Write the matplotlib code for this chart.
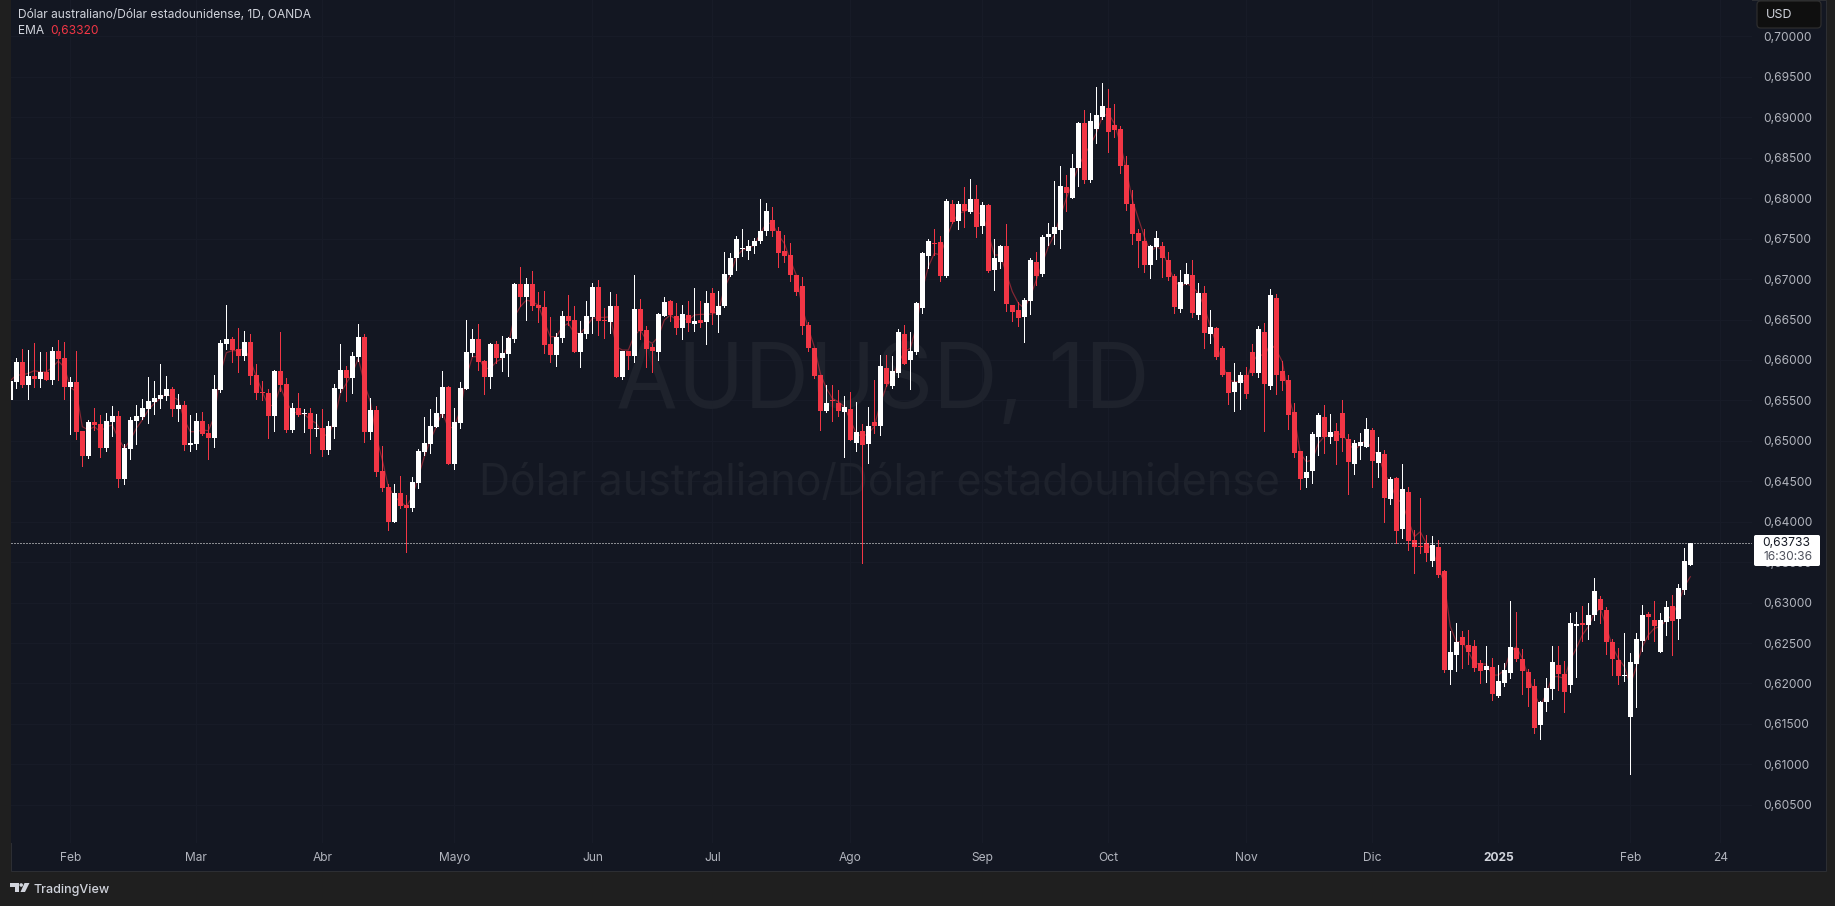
import matplotlib
matplotlib.use("Agg")
import matplotlib.pyplot as plt
from matplotlib.patches import Rectangle, FancyBboxPatch, Polygon, Ellipse
import numpy as np

W, H = 1835, 906

# Prices in 1/100000 of a dollar, one value per daily candle
HIGH = [
 65752,66020,66136,66123,66210,66099,66099,66160,66247,66222,65789,66111,65122,65258,65406,65320,65344,65431,65369,64961,65295,65443,65517,65789,65740,65950,65802,65666,65579,65493,65320,65344,65357,65208,65814,66247,66680,66284,66395,66358,66321,65950,65740,65641,65876,66346,65777,65468,65592,65394,65406,65332,65394,65245,65703,66198,65926,66099,66445,66321,65530,65431,64936,64466,64466,64565,64330,64553,64899,65295,65394,65542,65864,
 65678,65406,65727,66494,66382,66444,65999,66209,66234,66296,66284,66951,67149,67013,67100,66844,66852,66531,66333,66605,66803,66667,66481,66729,66951,66988,66642,66840,66815,66110,66110,67050,66753,66420,66197,66580,66778,66741,66704,66679,66729,66889,66729,66852,66889,66852,67335,67322,67532,67619,67483,67508,67990,67941,67891,67644,67545,67446,67050,67025,66469,66147,65814,65690,65690,65628,65554,65603,65480,65208,65418,65752,
 66062,66062,66049,66383,66433,66346,66717,67335,67496,67620,67533,67991,67978,67966,68139,68238,68164,67954,67929,67496,67422,67682,66680,66717,66767,67261,67335,67546,67694,68213,68399,68288,68547,68943,69091,69054,69376,69425,69351,69166,68893,68523,68102,67620,67620,67422,67595,67459,67335,67063,67113,67199,67236,66952,66915,66618,66408,66173,65851,65963,65851,65913,66198,66420,
 66457,66878,66816,65987,65814,65468,64874,64813,65109,65344,65443,65332,65221,65505,65085,65010,65097,65282,65159,65048,64887,64553,64553,64714,64429,63897,64293,63836,63823,63774,
 63403,62648,62747,62648,62661,62537,62290,62463,62314,62228,62253,63019,62883,62426,62178,62055,61783,62067,62463,62463,62277,62871,62883,62958,62995,63304,63081,62945,62549,62438,62624,62376,62624,62970,62883,63019,62871,63019,63094,63230,63675,63733,
]
BODY_TOP = [
 65744,65975,65975,65802,65802,65851,65851,66111,66111,66024,65728,65728,65122,65233,65233,65208,65245,65307,65307,64912,65258,65307,65406,65493,65530,65567,65641,65641,65443,65443,64973,65245,65245,65097,65641,66210,66259,66259,66136,66222,66222,65814,65604,65592,65864,65864,65703,65406,65406,65340,65344,65159,65159,65184,65654,65876,65876,66049,66284,66284,65381,65381,64627,64429,64355,64355,64207,64491,64874,64973,65184,65344,65666,
 65665,65232,65653,66098,66259,66259,65987,66197,66197,66086,66271,66939,66939,66939,66939,66679,66655,66197,66284,66543,66543,66494,66333,66543,66902,66902,66494,66667,66667,66110,66110,66630,66630,66370,66160,66568,66716,66729,66543,66568,66556,66481,66494,66704,66828,66667,67063,67260,67495,67384,67409,67471,67594,67842,67730,67594,67347,67298,67050,66914,66432,66147,65814,65467,65504,65467,65418,65393,65109,65121,65183,65232,
 65926,65901,65864,66346,66321,66111,66705,67323,67471,67443,67459,67966,67929,67929,67929,67991,67991,67917,67917,67261,67410,67410,66680,66618,66742,67236,67212,67521,67558,67645,68152,68139,68374,68931,68931,68955,69030,69141,69116,68906,68856,68411,67929,67570,67471,67410,67509,67410,67236,67039,66964,67063,67051,66828,66828,66408,66396,66148,65851,65728,65814,65814,66099,66383,
 66346,66804,66766,65864,65752,65357,64874,64615,65085,65320,65295,65109,65122,65344,65023,64973,64986,65146,65134,64862,64837,64528,64541,64405,64367,63774,63700,63737,63712,63687,
 63390,62389,62512,62574,62475,62463,62253,62216,62203,62030,62166,62451,62438,62302,62141,61968,61770,61944,62265,62228,62117,62747,62735,62747,62846,63143,63044,62908,62512,62290,62104,62265,62549,62846,62859,62784,62784,62945,62958,63180,63514,63733,
]
BODY_BOTTOM = [
 65505,65728,65691,65691,65765,65765,65752,65752,66012,65666,65666,65109,64813,64813,65192,64912,64912,65233,64528,64528,64899,65245,65295,65394,65480,65517,65555,65394,65394,64949,64949,64961,65085,65035,65035,65625,66198,66123,66049,66049,65802,65592,65596,65307,65307,65691,65134,65134,65320,65332,65146,65151,64887,64887,65171,65641,65777,65777,66037,65109,65109,64615,64417,63996,63996,64194,64170,64170,64479,64862,64961,65171,65332,
 64713,64713,65220,65641,66086,65974,65789,65789,66024,66024,66073,66259,66778,66778,66667,66642,66185,66061,66061,66271,66481,66098,66098,66321,66531,66481,66477,66469,65789,65789,66049,66049,66358,66135,66110,66098,66543,66556,66395,66395,66457,66444,66457,66469,66580,66556,66667,67050,67260,67372,67347,67409,67471,67594,67594,67322,67285,67050,66840,66420,66147,65801,65368,65368,65496,65368,65356,65010,64973,64948,64960,65183,
 65184,65703,65678,65839,65950,66000,66099,66643,67286,67434,67039,67039,67706,67719,67842,67830,67645,67657,67100,67113,67212,66692,66593,66519,66532,66729,67039,67063,67521,67558,67607,68065,68003,68374,68226,68226,68856,69005,68819,68844,68399,67929,67558,67471,67175,67175,67397,67261,67026,66655,66630,66940,66581,66556,66334,66321,66037,65814,65592,65604,65715,65579,65839,65839,
 65703,65678,65814,65740,65320,64850,64528,64541,64627,65048,65048,65048,64998,65035,64738,64714,64936,64924,64751,64726,64293,64281,63885,63910,63761,63687,63691,63613,63514,63341,
 62166,62166,62352,62475,62389,62191,62154,62166,61869,61845,62005,62129,62302,62154,61944,61449,61486,61770,61931,62117,61894,61981,62710,62723,62723,62846,62908,62512,62302,62092,62096,61585,62240,62525,62821,62710,62389,62760,62772,62797,63155,63465,
]
LOW = [
 65258,65658,65670,65517,65670,65670,65752,65703,65752,65517,65085,65023,64689,64788,65134,64800,64874,65060,64429,64466,64775,64961,65274,65221,65332,65406,65505,65307,65245,64887,64874,64899,65072,64775,64924,65604,66136,65975,65851,66000,65703,65517,65505,65035,65122,65616,65109,65109,65307,65109,64850,65060,64813,64837,65035,65604,65493,65592,65987,64986,65023,64565,64380,63897,63996,64170,63625,64132,64417,64825,64850,65171,65295,
 64713,64651,65158,65641,66049,65875,65579,65653,65962,65863,65801,66222,66667,66494,66617,66469,66086,65974,65925,66222,66432,66098,65913,66271,66333,66308,66271,66333,65789,65764,65888,65974,66259,65913,65851,65999,66543,66481,66321,66259,66358,66358,66407,66197,66444,66345,66655,67038,67112,67285,67248,67322,67446,67545,67532,67149,67211,66976,66803,66321,66110,65777,65133,65356,65245,65307,64800,65010,64874,63489,64725,65096,
 65072,65678,65654,65790,65950,65641,66074,66581,67133,67298,66977,67026,67694,67620,67645,67818,67521,67570,67088,66865,67137,66606,66482,66420,66222,66569,66927,67039,67422,67434,67385,67842,68003,68152,68189,68201,68683,68980,68572,68757,68312,67855,67434,67150,67088,67014,67249,67026,66989,66581,66593,66940,66532,66507,66148,66210,66012,65802,65456,65369,65394,65530,65814,65790,
 65122,65641,65579,65629,65146,64800,64405,64429,64479,64825,64850,64973,64714,64874,64343,64590,64775,64924,64429,64553,63996,64219,63737,63799,63650,63366,63613,63514,63452,63316,
 62141,61993,62154,62191,62240,62154,62005,62018,61795,61832,61968,62067,62277,61869,61721,61387,61313,61659,61807,61919,61647,61894,62080,62525,62549,62784,62747,62364,62104,61993,62030,60880,61709,62401,62549,62525,62389,62599,62352,62549,63106,63465,
]
EMA = [
 65744,65814,65814,65835,65868,65851,65851,65909,65987,65909,65662,65608,65175,65134,65175,65113,65175,65196,65031,64907,65010,65155,65258,65381,65464,65526,65579,65546,65505,65258,65113,65113,65134,65126,65299,65835,66090,66115,66115,66144,66000,65794,65608,65431,65443,65670,65484,65361,65340,65332,65258,65217,65093,65052,65258,65587,65711,65835,66020,65711,65484,65052,64763,64433,64310,64248,64186,64310,64557,64804,65010,65175,65360,
 65154,65175,65381,65793,66040,66040,65896,65896,65978,66020,66185,66535,66659,66741,66720,66679,66473,66288,66288,66411,66453,66329,66329,66411,66514,66527,66527,66535,66164,66123,66123,66308,66370,66246,66205,66288,66494,66556,66494,66514,66494,66556,66564,66564,66568,66597,66885,67050,67277,67359,67380,67421,67566,67689,67689,67545,67442,67236,67050,66638,66391,66164,65834,65649,65525,65484,65422,65257,65092,65051,65092,65175,
 65464,65670,65773,65959,66103,66144,66412,66865,67154,67319,67298,67504,67690,67814,67834,67875,67814,67814,67566,67298,67298,67072,66845,66701,66639,66783,66989,67195,67401,67546,67772,67999,68185,68391,68535,68659,68804,69009,69050,68926,68679,68349,67978,67752,67525,67339,67401,67360,67154,66989,66907,66948,66907,66824,66659,66412,66206,65959,65753,65732,65732,65753,65959,66082,
 66041,66206,66123,65979,65567,65299,64846,64742,64763,64969,65052,65072,65072,65093,64969,64887,64949,65010,64887,64825,64598,64475,64289,64227,64021,63815,63877,63733,63650,63444,
 63238,62702,62516,62516,62393,62248,62240,62240,62104,62104,62166,62393,62455,62310,62084,61878,61713,61878,62084,62084,62063,62290,62434,62599,62702,62867,62929,62702,62455,62310,62207,61981,62207,62455,62599,62681,62702,62784,62846,62991,63197,63320,
]
DIRECTION = (
 "WWRWRWRWRR" "WRRWRRWWRW" "WWWWWWWRWR" "WWRRWWWRRW" "RRRRWRRWRW" "RWRWWWRWWR" "WRRRWRRWWW"
 "WWW" "RWWWWRR"
 "WRWWWRWRRR" "RWWRRWWWRR" "WRWRWRRRWW" "RRWRWRWRWW" "WWWWWWWRRR" "RRRRRRWRRW"
 "RWRWRWRWWR" "WWWWRRWRWR" "WRWRWWRRRW" "WRWWWWRWWR" "WWWRRRRRRR" "WWRRRWWRWR"
 "WRRRWWRRWR" "WRRRRRWWWR" "WRRRWWWRWR" "WRWRRRRWRR" "WWRRRRWRWW" "WRRRRWWWRR"
 "WWRWWRRRRW" "WWWRRWWRWW" "W"
)
assert (len(HIGH), len(BODY_TOP), len(BODY_BOTTOM), len(LOW), len(EMA), len(DIRECTION)) == (281,) * 6, \
    (len(HIGH), len(BODY_TOP), len(BODY_BOTTOM), len(LOW), len(EMA), len(DIRECTION))

LAST_PRICE = 0.63733
EMA_LAST = "0,63320"
Y_TICKS = [0.605, 0.610, 0.615, 0.620, 0.625, 0.630, 0.635, 0.640, 0.645, 0.650, 0.655,
           0.660, 0.665, 0.670, 0.675, 0.680, 0.685, 0.690, 0.695, 0.700]
Y_LABELS = ["0,60500", "0,61000", "0,61500", "0,62000", "0,62500", "0,63000", "0,63500",
            "0,64000", "0,64500", "0,65000", "0,65500", "0,66000", "0,66500", "0,67000",
            "0,67500", "0,68000", "0,68500", "0,69000", "0,69500", "0,70000"]
X_TICKS = [10, 31, 52, 74, 97, 117, 140, 162, 183, 206, 227, 248, 270, 285]
X_LABELS = ["Feb", "Mar", "Abr", "Mayo", "Jun", "Jul", "Ago", "Sep", "Oct", "Nov", "Dic", "2025", "Feb", "24"]

BG, OUTER = "#131722", "#1f1f1f"
RED, WHITE = "#f23645", "#ffffff"
TXT, SCALE_TXT = "#d1d4dc", "#b2b5be"
FONT = ["Inter", "DejaVu Sans"]
plt.rcParams["font.family"] = FONT

idx = np.arange(len(HIGH))
high, low = np.array(HIGH) / 1e5, np.array(LOW) / 1e5
top, bottom = np.array(BODY_TOP) / 1e5, np.array(BODY_BOTTOM) / 1e5
ema = np.array(EMA) / 1e5
colors = [WHITE if d == "W" else RED for d in DIRECTION]

px = lambda v: v * 0.72  # pixels to points at dpi 100
fig = plt.figure(figsize=(W / 100, H / 100), dpi=100, facecolor=OUTER)


def fx(x):
    return x / W


def fy(y):
    return 1 - y / H


# Chart panel behind everything
fig.patches.append(Rectangle((fx(10.5), fy(870.5)), 1815 / W, 870.5 / H, transform=fig.transFigure,
                             facecolor=BG, edgecolor="#2c2e33", linewidth=px(1), zorder=-5))

# Plot area: pixel frame is x 11..1752, y 0..843
AX_L, AX_R, AX_B = 11, 1752, 843
ax = fig.add_axes([fx(AX_L), fy(AX_B), (AX_R - AX_L) / W, AX_B / H], facecolor=BG)
ax.set_xlim((AX_L - 10.33) / 6, (AX_R - 10.33) / 6)
ax.set_ylim(LAST_PRICE - (AX_B - 543.3) / 8087, LAST_PRICE + 543.3 / 8087)
for s in ax.spines.values():
    s.set_visible(False)
ax.yaxis.tick_right()
ax.set_yticks(Y_TICKS, Y_LABELS)
ax.set_xticks(X_TICKS, X_LABELS)
ax.tick_params(axis="y", length=0, pad=px(11), labelsize=px(12), labelcolor=SCALE_TXT)
ax.tick_params(axis="x", length=0, pad=px(9), labelsize=px(12), labelcolor=SCALE_TXT)
for lab in ax.get_yticklabels():
    lab.set_verticalalignment("center_baseline")
for lab in ax.get_xticklabels():
    if lab.get_text() == "2025":
        lab.set_fontweight("bold")
        lab.set_color(TXT)
ax.grid(True, color="#171b27", linewidth=px(1), zorder=0)
ax.set_axisbelow(True)

# Watermark
ax.text((883 - AX_L) / (AX_R - AX_L), 1 - 384 / AX_B, "AUDUSD, 1D", transform=ax.transAxes, fontsize=px(89.5),
        color="#1e222c", ha="center", va="center", zorder=1)
ax.text((879 - AX_L) / (AX_R - AX_L), 1 - 483 / AX_B, "Dólar australiano/Dólar estadounidense", transform=ax.transAxes,
        fontsize=px(43), color="#1e222c", ha="center", va="center", zorder=1)

# EMA, wicks, bodies
ax.plot(idx, ema, color=RED, alpha=0.5, linewidth=px(1.2), zorder=2)
ax.vlines(idx, low, high, colors=colors, linewidth=px(1), antialiased=False, zorder=3)
ax.bar(idx, top - bottom, bottom=bottom, width=5 / 6, color=colors, linewidth=0, antialiased=False, zorder=3)

# Last price line
ax.axhline(LAST_PRICE, color="#ffffff", linewidth=px(1), linestyle=(0, (1, 2)), zorder=4)

# Header
fig.text(fx(18), fy(15), "Dólar australiano/Dólar estadounidense, 1D, OANDA", color=TXT, fontsize=px(12),
         ha="left", va="center")
fig.text(fx(18), fy(31.5), "EMA", color=TXT, fontsize=px(12), ha="left", va="center")
fig.text(fx(50), fy(31.5), EMA_LAST, color=RED, fontsize=px(12), ha="left", va="center")

# USD box
fig.patches.append(FancyBboxPatch((fx(1757), fy(28)), 64 / W, 27 / H, boxstyle="round,pad=0,rounding_size=0.002",
                                  mutation_aspect=W / H, transform=fig.transFigure, facecolor="#0f0f0f",
                                  edgecolor="#2e2e2e", linewidth=px(1.2), zorder=5))
fig.text(fx(1766), fy(14.5), "USD", color=TXT, fontsize=px(12.5), ha="left", va="center", zorder=6)

# Last price label
fig.patches.append(FancyBboxPatch((fx(1754), fy(566)), 66 / W, 31 / H, boxstyle="round,pad=0,rounding_size=0.001",
                                  mutation_aspect=W / H, transform=fig.transFigure, facecolor="#ffffff",
                                  edgecolor="none", zorder=5))
fig.text(fx(1786.5), fy(542.5), "0,63733", color="#131722", fontsize=px(12), ha="center", va="center", zorder=6)
fig.text(fx(1788), fy(557.5), "16:30:36", color="#50535e", fontsize=px(12), ha="center", va="center", zorder=6)

# Footer logo and brand
logo = "#d1d4dc"


def lp(points):
    return [(fx(x), fy(y)) for x, y in points]


fig.patches.append(Polygon(lp([(10, 883), (19, 883), (19, 892), (14.5, 892), (14.5, 887), (10, 887)]),
                           closed=True, transform=fig.transFigure, facecolor=logo, edgecolor="none"))
fig.patches.append(Ellipse((fx(21.2), fy(885)), 3.6 / W, 3.6 / H, transform=fig.transFigure, facecolor=logo,
                           edgecolor="none"))
fig.patches.append(Polygon(lp([(24.5, 883), (29.5, 883), (25, 892), (20.5, 892)]),
                           closed=True, transform=fig.transFigure, facecolor=logo, edgecolor="none"))
fig.text(fx(33.5), fy(890.5), "TradingView", color=logo, fontsize=px(12.5), fontweight="medium", ha="left", va="center")

fig.savefig("out.png", dpi=100, facecolor=OUTER)
